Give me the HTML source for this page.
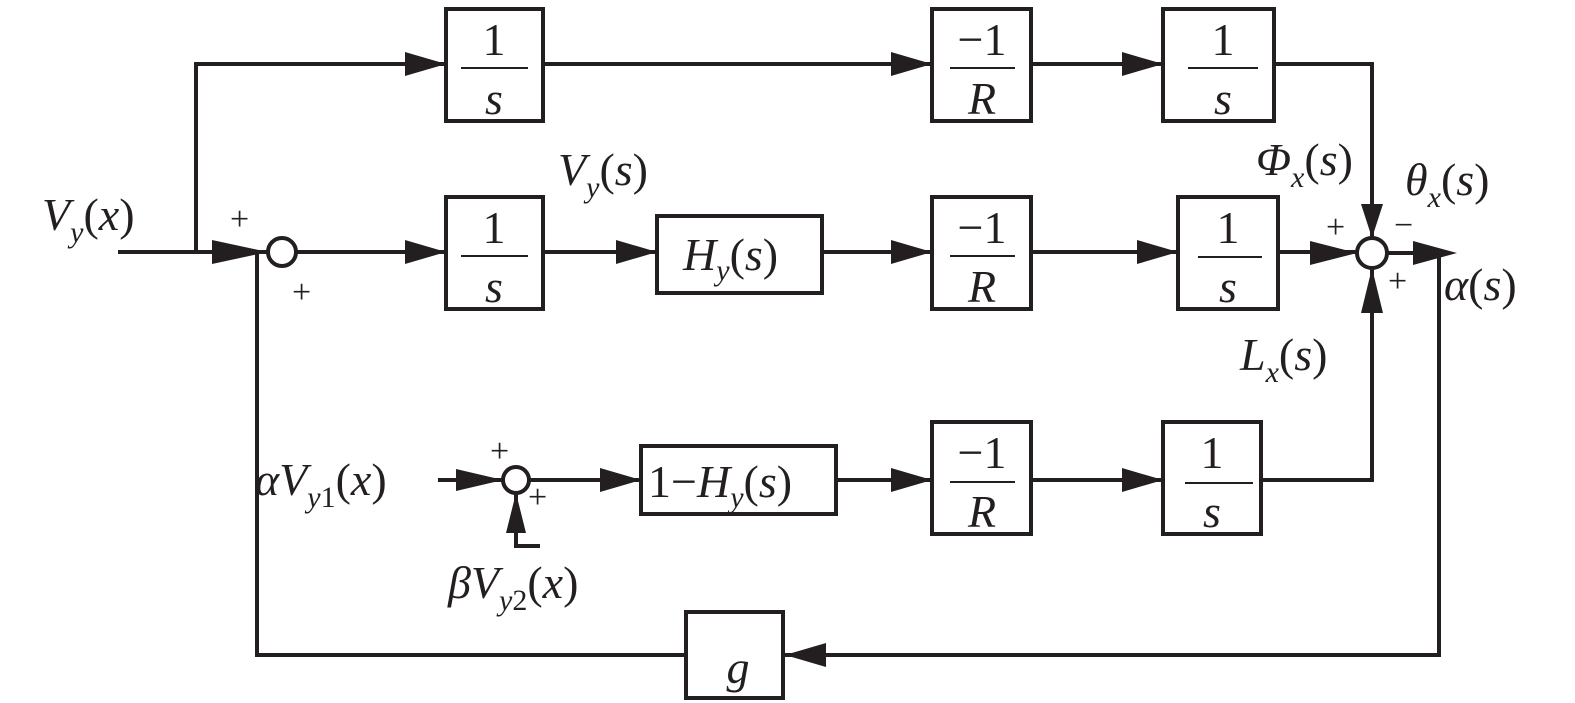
<!DOCTYPE html>
<html><head><meta charset="utf-8"><style>
html,body{margin:0;padding:0;background:#fff;}
svg{display:block;}
text{font-family:"Liberation Serif",serif;fill:#231f20;}
.i{font-style:italic;}
</style></head><body>
<svg width="1575" height="703" viewBox="0 0 1575 703" xmlns="http://www.w3.org/2000/svg">
<defs>
<marker id="a" markerWidth="10" markerHeight="8" refX="10" refY="4" orient="auto" markerUnits="userSpaceOnUse" viewBox="0 0 10 8">
</marker>
</defs>
<g stroke="#231f20" stroke-width="4" fill="none">
<!-- boxes -->
<rect x="446" y="9" width="97" height="112"/>
<rect x="932" y="9" width="99" height="112"/>
<rect x="1163" y="9" width="111" height="112"/>
<rect x="446" y="197" width="97" height="112"/>
<rect x="657" y="216" width="165" height="77"/>
<rect x="932" y="197" width="99" height="112"/>
<rect x="1178" y="197" width="100" height="112"/>
<rect x="641" y="446" width="195" height="68"/>
<rect x="932" y="422" width="99" height="112"/>
<rect x="1163" y="422" width="98" height="112"/>
<rect x="686" y="612" width="97" height="86"/>
<!-- fraction bars -->
<g stroke-width="2">
<line x1="461" y1="68" x2="528" y2="68"/>
<line x1="950" y1="68" x2="1015" y2="68"/>
<line x1="1188" y1="68" x2="1258" y2="68"/>
<line x1="461" y1="256" x2="528" y2="256"/>
<line x1="950" y1="256" x2="1015" y2="256"/>
<line x1="1198" y1="257" x2="1262" y2="257"/>
<line x1="950" y1="482" x2="1015" y2="482"/>
<line x1="1185" y1="483" x2="1253" y2="483"/>
</g>
<!-- circles -->
<circle cx="282" cy="252" r="14"/>
<ellipse cx="1372" cy="253" rx="15" ry="15"/>
<ellipse cx="516" cy="480" rx="13" ry="13"/>
<!-- lines -->
<polyline points="118,252 268,252"/>
<polyline points="196,252 196,64 446,64"/>
<line x1="296" y1="252" x2="446" y2="252"/>
<line x1="543" y1="252" x2="657" y2="252"/>
<line x1="822" y1="252" x2="932" y2="252"/>
<line x1="1031" y1="252" x2="1178" y2="252"/>
<line x1="1278" y1="252" x2="1357" y2="252"/>
<line x1="543" y1="64" x2="932" y2="64"/>
<line x1="1031" y1="64" x2="1163" y2="64"/>
<polyline points="1274,64 1372,64 1372,238"/>
<line x1="1387" y1="253" x2="1440" y2="253"/>
<polyline points="1439,253 1439,655 783,655"/>
<polyline points="686,655 257,655 257,252 268,252"/>
<line x1="438" y1="480" x2="503" y2="480"/>
<line x1="529" y1="480" x2="641" y2="480"/>
<line x1="836" y1="480" x2="932" y2="480"/>
<line x1="1031" y1="480" x2="1163" y2="480"/>
<polyline points="1261,480 1372,480 1372,268"/>
<polyline points="540,546 516,546 516,493"/>
</g>
<!-- arrowheads -->
<g fill="#231f20">
<polygon points="446,64 405,52 405,76"/>
<polygon points="268,252 212,240 212,264"/>
<polygon points="446,252 405,240 405,264"/>
<polygon points="657,252 616,240 616,264"/>
<polygon points="932,252 891,240 891,264"/>
<polygon points="1178,252 1137,240 1137,264"/>
<polygon points="1357,253 1310,241 1310,265"/>
<polygon points="932,64 891,52 891,76"/>
<polygon points="1163,64 1122,52 1122,76"/>
<polygon points="1372,238 1361,204 1383,204"/>
<polygon points="1372,268 1361,313 1383,313"/>
<polygon points="1457,253 1413,241 1413,265"/>
<polygon points="785,655 826,643 826,667"/>
<polygon points="503,480 456,469 456,491"/>
<polygon points="641,480 600,468 600,492"/>
<polygon points="932,480 891,468 891,492"/>
<polygon points="1163,480 1122,468 1122,492"/>
<polygon points="516,493 506,533 526,533"/>
</g>
<!-- box text -->
<g font-size="46" text-anchor="middle">
<text x="494" y="55">1</text><text x="494" y="114" class="i">s</text>
<text x="982" y="55">−1</text><text x="982" y="114" class="i">R</text>
<text x="1223" y="55">1</text><text x="1223" y="114" class="i">s</text>
<text x="494" y="243">1</text><text x="494" y="302" class="i">s</text>
<text x="982" y="243">−1</text><text x="982" y="302" class="i">R</text>
<text x="1228" y="243">1</text><text x="1228" y="302" class="i">s</text>
<text x="982" y="468">−1</text><text x="982" y="527" class="i">R</text>
<text x="1212" y="468">1</text><text x="1212" y="527" class="i">s</text>
<text x="738" y="683" class="i">g</text>
</g>
<g font-size="46">
<text x="683" y="270"><tspan class="i">H</tspan><tspan class="i" font-size="30" dy="10">y</tspan><tspan dy="-10">(</tspan><tspan class="i">s</tspan>)</text>
<text x="648" y="497">1−<tspan class="i">H</tspan><tspan class="i" font-size="30" dy="10">y</tspan><tspan dy="-10">(</tspan><tspan class="i">s</tspan>)</text>
<text x="42" y="230"><tspan class="i">V</tspan><tspan class="i" font-size="30" dy="12">y</tspan><tspan dy="-12">(</tspan><tspan class="i">x</tspan>)</text>
<text x="558" y="185"><tspan class="i">V</tspan><tspan class="i" font-size="30" dy="12">y</tspan><tspan dy="-12">(</tspan><tspan class="i">s</tspan>)</text>
<text x="1256" y="175"><tspan class="i">Φ</tspan><tspan class="i" font-size="30" dy="12">x</tspan><tspan dy="-12">(</tspan><tspan class="i">s</tspan>)</text>
<text x="1405" y="195"><tspan class="i">θ</tspan><tspan class="i" font-size="30" dy="12">x</tspan><tspan dy="-12">(</tspan><tspan class="i">s</tspan>)</text>
<text x="1444" y="300"><tspan class="i">α</tspan>(<tspan class="i">s</tspan>)</text>
<text x="1240" y="370"><tspan class="i">L</tspan><tspan class="i" font-size="30" dy="12">x</tspan><tspan dy="-12">(</tspan><tspan class="i">s</tspan>)</text>
<text x="255" y="495"><tspan class="i">αV</tspan><tspan class="i" font-size="30" dy="12">y</tspan><tspan font-size="30">1</tspan><tspan dy="-12">(</tspan><tspan class="i">x</tspan>)</text>
<text x="448" y="598"><tspan class="i">βV</tspan><tspan class="i" font-size="30" dy="12">y</tspan><tspan font-size="30">2</tspan><tspan dy="-12">(</tspan><tspan class="i">x</tspan>)</text>
</g>
<g font-size="34">
<text x="230" y="230">+</text>
<text x="292" y="303">+</text>
<text x="1326" y="238">+</text>
<text x="1394" y="236">−</text>
<text x="1388" y="292">+</text>
<text x="490" y="462">+</text>
<text x="528" y="508">+</text>
</g>
</svg>
</body></html>
